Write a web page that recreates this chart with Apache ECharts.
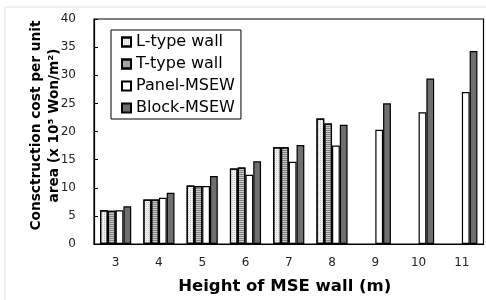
<!DOCTYPE html>
<html>
<head>
<meta charset="utf-8">
<script src="https://cdn.jsdelivr.net/npm/echarts@6/dist/echarts.min.js"></script>
<style>
  html, body { margin: 0; padding: 0; background: #fff; }
  #chart { width: 486px; height: 300px; }
</style>
</head>
<body>
<div id="chart"></div>
<script>
// wall height (m)
const heights = ['3', '4', '5', '6', '7', '8', '9', '10', '11'];
// construction cost per unit area (x 10^5 Won/m^2)
const lType = [6.0, 7.9, 10.4, 13.4, 17.2, 22.3, null, null, null];
const tType = [5.9, 7.9, 10.3, 13.6, 17.2, 21.4, null, null, null];
const panelMsew = [6.0, 8.2, 10.3, 12.3, 14.6, 17.5, 20.3, 23.4, 27.0];
const blockMsew = [6.7, 9.1, 12.1, 14.7, 17.6, 21.2, 25.0, 29.4, 34.3];
const yTicks = { min: 0, max: 40, step: 5 };

const font = 'DejaVu Sans';
const chart = echarts.init(document.getElementById('chart'));

function bar(name, data, color, decal) {
  const style = { color: color, borderColor: '#000', borderWidth: 1.2 };
  if (decal) style.decal = decal;
  return {
    name: name,
    type: 'bar',
    data: data,
    barGap: '0%',
    barCategoryGap: '28%',
    itemStyle: style
  };
}

// dotted fill for L-type, horizontal stripes for T-type
const dots = { symbol: 'rect', symbolSize: 1, dashArrayX: [1, 1], dashArrayY: [1, 1], color: 'rgba(0,0,0,0.18)' };
const stripes = { symbol: 'rect', symbolSize: 1, dashArrayX: [[1, 0]], dashArrayY: [1, 1], color: 'rgba(60,60,60,0.5)' };

chart.setOption({
  animation: false,
  textStyle: { fontFamily: font },
  grid: {
    left: 94, right: 2.5, top: 19, bottom: 53,
    show: true, borderColor: '#000', borderWidth: 1.2
  },
  legend: {
    orient: 'vertical',
    left: 111, top: 30,
    padding: [3, 6, 2, 10],
    borderColor: '#000', borderWidth: 1,
    icon: 'rect',
    itemWidth: 9, itemHeight: 9, itemGap: 4,
    textStyle: { fontSize: 16, lineHeight: 18, color: '#000', fontFamily: font },
    data: ['L-type wall', 'T-type wall', 'Panel-MSEW', 'Block-MSEW']
  },
  xAxis: {
    type: 'category',
    data: heights,
    name: 'Height of MSE wall (m)',
    nameLocation: 'middle',
    nameGap: 34,
    nameMoveOverlap: false,
    nameTextStyle: { fontSize: 16.5, fontWeight: 'bold', color: '#000', padding: [0, 8, 0, 0] },
    axisLine: { lineStyle: { color: '#000', width: 1.2 } },
    axisTick: { inside: true, length: 4, lineStyle: { color: '#000' } },
    axisLabel: { fontSize: 12, color: '#222', margin: 13 }
  },
  yAxis: {
    type: 'value',
    min: yTicks.min, max: yTicks.max, interval: yTicks.step,
    name: 'Consctruction cost per unit\narea (x 10\u2075 Won/m\u00b2)',
    nameLocation: 'middle',
    nameGap: 30,
    nameMoveOverlap: false,
    nameTextStyle: { fontSize: 13.7, fontWeight: 'bold', color: '#000', lineHeight: 18.5, padding: [0, 0, 0, 12] },
    axisLine: { show: true, lineStyle: { color: '#000', width: 1.2 } },
    axisTick: { show: true, inside: true, length: 4, lineStyle: { color: '#000' } },
    axisLabel: { fontSize: 12, color: '#222', margin: 18 },
    splitLine: { show: false }
  },
  graphic: [
    { type: 'line', shape: { x1: 5, y1: 7, x2: 486, y2: 7 }, style: { stroke: '#e0e0e0', lineWidth: 1 } },
    { type: 'line', shape: { x1: 5, y1: 7, x2: 5, y2: 300 }, style: { stroke: '#e0e0e0', lineWidth: 1 } }
  ],
  series: [
    bar('L-type wall', lType, '#f2f2f2', dots),
    bar('T-type wall', tType, '#c8c8c8', stripes),
    bar('Panel-MSEW', panelMsew, '#ffffff'),
    bar('Block-MSEW', blockMsew, '#6f6f6f')
  ]
});
</script>
</body>
</html>
